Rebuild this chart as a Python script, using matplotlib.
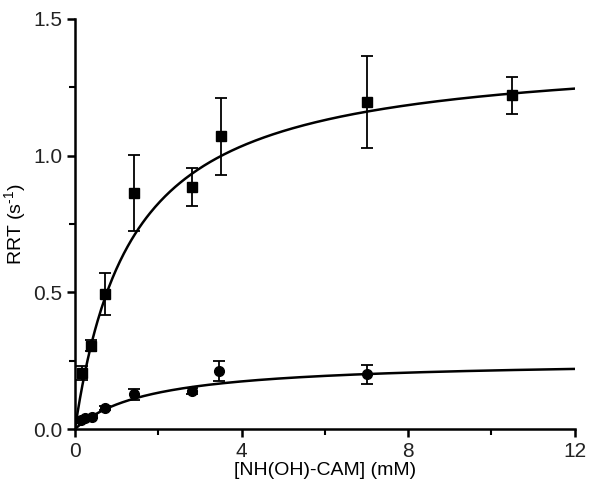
import numpy as np
import matplotlib.pyplot as plt

plt.rcParams['font.family'] = ['Liberation Sans', 'DejaVu Sans']
plt.rcParams['mathtext.fontset'] = 'custom'
plt.rcParams['mathtext.rm'] = 'Liberation Sans'

# squares
sq_x = [0.18, 0.38, 0.72, 1.42, 2.8, 3.5, 7.0, 10.5]
sq_y = [0.205, 0.305, 0.494, 0.864, 0.885, 1.07, 1.195, 1.22]
sq_err = [0.025, 0.02, 0.078, 0.138, 0.07, 0.14, 0.168, 0.068]

# circles
ci_x = [0.14, 0.24, 0.4, 0.72, 1.42, 2.82, 3.46, 7.0]
ci_y = [0.033, 0.039, 0.045, 0.076, 0.128, 0.139, 0.212, 0.20]
ci_err = [0.005, 0.005, 0.005, 0.008, 0.02, 0.012, 0.038, 0.035]

# Michaelis-Menten fit parameters (Vmax, Km)
sq_fit = (1.386, 1.36)
ci_fit = (0.253, 1.81)

fig = plt.figure(figsize=(6, 4.96), dpi=100)
ax = fig.add_axes([0.125, 0.135, 0.833, 0.827])

xs = np.linspace(0, 12, 400)
for (vmax, km) in (sq_fit, ci_fit):
    ax.plot(xs, vmax * xs / (km + xs), color='black', lw=1.8)

ax.errorbar(sq_x, sq_y, yerr=sq_err, fmt='s', color='black', ms=7,
            capsize=4, elinewidth=1.3, capthick=1.3)
ax.errorbar(ci_x, ci_y, yerr=ci_err, fmt='o', color='black', ms=7,
            capsize=4, elinewidth=1.3, capthick=1.3)

ax.set_xlim(0, 12)
ax.set_ylim(0, 1.5)
ax.set_xticks([0, 4, 8, 12])
ax.set_xticks([2, 6, 10], minor=True)
ax.set_yticks([0, 0.5, 1.0, 1.5])
ax.set_yticks([0.25, 0.75, 1.25], minor=True)
ax.set_yticklabels(['0.0', '0.5', '1.0', '1.5'])
ax.spines['top'].set_visible(False)
ax.spines['right'].set_visible(False)
for s in ('left', 'bottom'):
    ax.spines[s].set_linewidth(1.8)
ax.tick_params(which='major', direction='out', length=6, width=1.8,
               labelsize=15, pad=3)
ax.tick_params(which='minor', direction='out', length=4, width=1.5)
for lab in ax.get_xticklabels() + ax.get_yticklabels():
    lab.set_color('#222222')

ax.set_xlabel('[NH(OH)-CAM] (mM)', fontsize=14, labelpad=1)
ax.set_ylabel('RRT (s$^{\\mathrm{\u2010}1}$)', fontsize=14, labelpad=3)

plt.savefig('out.png')
plt.close()
